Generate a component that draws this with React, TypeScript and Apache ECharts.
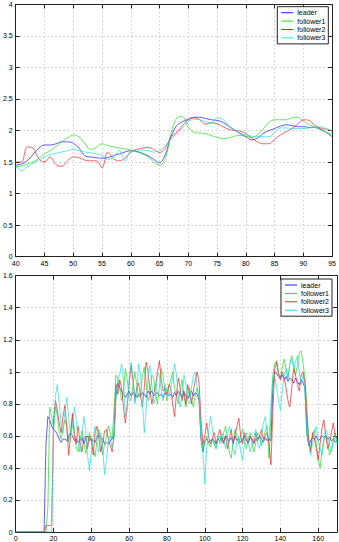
import React, { useEffect, useRef } from "react";
import * as echarts from "echarts";

// ---------- data ----------
const seriesNames = ["leader", "follower1", "follower2", "follower3"];
const seriesColors = ["#1a1aee", "#22dd22", "#ee2222", "#22dddd"];

// top plot: x from 40 to 95, step 1
const topX = [
  40, 41, 42, 43, 44, 45, 46, 47, 48, 49, 50, 51, 52, 53, 54, 55, 56, 57, 58, 59,
  60, 61, 62, 63, 64, 65, 66, 67, 68, 69, 70, 71, 72, 73, 74, 75, 76, 77, 78, 79,
  80, 81, 82, 83, 84, 85, 86, 87, 88, 89, 90, 91, 92, 93, 94, 95,
];
const topLeader = [
  1.45, 1.47, 1.52, 1.62, 1.72, 1.77, 1.77, 1.79, 1.82, 1.82, 1.80, 1.72, 1.60, 1.58, 1.57, 1.56, 1.57, 1.60, 1.63, 1.66,
  1.68, 1.67, 1.64, 1.60, 1.54, 1.49, 1.62, 1.90, 2.08, 2.14, 2.18, 2.21, 2.21, 2.19, 2.17, 2.16, 2.13, 2.07, 2.01, 1.95,
  1.90, 1.85, 1.88, 1.95, 2.00, 2.03, 2.07, 2.09, 2.08, 2.06, 2.06, 2.05, 2.05, 2.02, 1.97, 1.90,
];
const topFollower1 = [
  1.42, 1.44, 1.47, 1.50, 1.56, 1.63, 1.68, 1.75, 1.82, 1.88, 1.93, 1.90, 1.80, 1.70, 1.73, 1.79, 1.76, 1.74, 1.72, 1.71,
  1.69, 1.66, 1.63, 1.58, 1.50, 1.45, 1.55, 1.95, 2.20, 2.22, 2.05, 1.97, 1.96, 1.95, 1.92, 1.89, 1.87, 1.88, 1.91, 1.92,
  1.91, 1.89, 1.93, 2.02, 2.13, 2.17, 2.17, 2.17, 2.20, 2.21, 2.15, 2.09, 2.05, 2.01, 1.97, 1.94,
];
const topFollower2 = [
  1.50, 1.50, 1.74, 1.72, 1.55, 1.50, 1.58, 1.46, 1.43, 1.52, 1.58, 1.57, 1.53, 1.52, 1.52, 1.41, 1.66, 1.55, 1.52, 1.56,
  1.66, 1.70, 1.72, 1.73, 1.70, 1.65, 1.72, 1.90, 1.97, 2.08, 2.17, 2.20, 2.17, 2.10, 2.12, 2.11, 2.06, 2.02, 2.00, 1.99,
  1.95, 1.88, 1.82, 1.79, 1.79, 1.86, 1.93, 1.98, 2.03, 2.10, 2.17, 2.16, 2.08, 2.04, 2.02, 1.99,
];
const topFollower3 = [
  1.45, 1.36, 1.42, 1.48, 1.53, 1.58, 1.62, 1.64, 1.66, 1.68, 1.70, 1.68, 1.66, 1.65, 1.63, 1.61, 1.54, 1.58, 1.68, 1.52,
  1.68, 1.69, 1.69, 1.68, 1.66, 1.68, 1.76, 1.87, 1.95, 2.05, 2.14, 2.18, 2.17, 2.14, 2.12, 2.20, 2.18, 2.07, 2.01, 1.96,
  1.93, 1.91, 1.90, 1.90, 1.90, 1.97, 2.04, 2.04, 2.03, 2.03, 2.03, 2.04, 2.05, 2.06, 2.03, 1.99,
];

// bottom plot: samples at x = 0, 1, 2, ... 170
const bottomLeader = [
  0, 0, 0, 0, 0, 0, 0, 0, 0, 0,
  0, 0, 0, 0, 0, 0, 0.55, 0.72, 0.70, 0.66,
  0.64, 0.63, 0.61, 0.58, 0.56, 0.58, 0.58, 0.57, 0.60, 0.62,
  0.60, 0.57, 0.58, 0.56, 0.57, 0.59, 0.55, 0.58, 0.60, 0.57,
  0.58, 0.57, 0.56, 0.59, 0.60, 0.59, 0.58, 0.55, 0.56, 0.55,
  0.57, 0.58, 0.60, 0.85, 0.93, 0.90, 0.88, 0.86, 0.84, 0.86,
  0.88, 0.85, 0.87, 0.86, 0.84, 0.86, 0.85, 0.87, 0.86, 0.84,
  0.88, 0.86, 0.88, 0.85, 0.86, 0.87, 0.85, 0.86, 0.84, 0.87,
  0.86, 0.85, 0.86, 0.84, 0.87, 0.85, 0.88, 0.86, 0.84, 0.87,
  0.85, 0.83, 0.86, 0.88, 0.85, 0.87, 0.86, 0.82, 0.58, 0.50,
  0.57, 0.58, 0.56, 0.57, 0.58, 0.57, 0.55, 0.58, 0.57, 0.59,
  0.56, 0.60, 0.58, 0.57, 0.59, 0.56, 0.60, 0.57, 0.58, 0.56,
  0.58, 0.60, 0.57, 0.56, 0.59, 0.58, 0.56, 0.58, 0.57, 0.60,
  0.58, 0.56, 0.59, 0.57, 0.58, 0.57, 0.90, 1.00, 0.99, 0.97,
  0.96, 0.98, 0.95, 0.97, 0.94, 0.96, 0.95, 0.93, 0.96, 0.94,
  0.92, 0.95, 0.93, 0.90, 0.62, 0.54, 0.57, 0.59, 0.58, 0.60,
  0.57, 0.58, 0.60, 0.59, 0.60, 0.58, 0.59, 0.57, 0.58, 0.56,
  0.57,
];
const bottomFollower1 = [
  0, 0, 0, 0, 0, 0, 0, 0, 0, 0,
  0, 0, 0, 0, 0, 0, 0, 0.15, 0.78, 0.72,
  0.66, 0.78, 0.73, 0.62, 0.58, 0.64, 0.70, 0.66, 0.56, 0.62,
  0.72, 0.64, 0.52, 0.50, 0.58, 0.63, 0.56, 0.49, 0.55, 0.62,
  0.57, 0.52, 0.47, 0.58, 0.64, 0.56, 0.48, 0.55, 0.60, 0.66,
  0.62, 0.58, 0.76, 0.98, 0.96, 0.90, 0.82, 0.88, 1.02, 0.95,
  0.84, 0.82, 0.92, 1.00, 0.92, 0.84, 0.86, 0.97, 1.03, 0.93,
  0.82, 0.85, 0.98, 0.96, 0.86, 0.80, 0.90, 1.02, 0.97, 0.88,
  0.82, 0.90, 0.95, 1.00, 0.90, 0.85, 0.80, 0.88, 0.95, 0.85,
  0.78, 0.85, 0.90, 0.82, 0.78, 0.86, 0.90, 0.84, 0.60, 0.52,
  0.56, 0.60, 0.55, 0.53, 0.58, 0.55, 0.52, 0.58, 0.60, 0.56,
  0.62, 0.66, 0.58, 0.50, 0.46, 0.56, 0.64, 0.60, 0.55, 0.60,
  0.64, 0.57, 0.52, 0.58, 0.62, 0.55, 0.50, 0.56, 0.62, 0.60,
  0.54, 0.58, 0.63, 0.66, 0.46, 0.72, 0.98, 1.05, 1.07, 1.00,
  0.96, 1.03, 1.08, 1.02, 0.96, 1.05, 1.10, 1.05, 0.98, 1.04,
  1.12, 1.13, 1.05, 0.96, 0.78, 0.58, 0.52, 0.60, 0.64, 0.55,
  0.46, 0.40, 0.50, 0.58, 0.60, 0.56, 0.48, 0.52, 0.58, 0.62,
  0.55,
];
const bottomFollower2 = [
  0, 0, 0, 0, 0, 0, 0, 0, 0, 0,
  0, 0, 0, 0, 0, 0, 0.04, 0.04, 0.04, 0.04,
  0.70, 0.82, 0.76, 0.68, 0.62, 0.72, 0.79, 0.66, 0.48, 0.60,
  0.74, 0.60, 0.55, 0.66, 0.56, 0.50, 0.58, 0.60, 0.52, 0.60,
  0.58, 0.48, 0.62, 0.66, 0.58, 0.50, 0.56, 0.63, 0.64, 0.58,
  0.54, 0.50, 0.62, 0.92, 0.86, 0.95, 0.90, 0.78, 0.68, 0.80,
  0.92, 1.04, 0.95, 0.82, 0.90, 0.93, 0.85, 0.78, 0.90, 1.06,
  1.00, 0.88, 0.80, 0.86, 0.92, 1.00, 1.07, 0.95, 0.88, 0.90,
  0.86, 0.92, 0.90, 0.80, 0.72, 0.86, 0.96, 0.90, 0.82, 0.88,
  0.80, 0.92, 0.86, 0.80, 0.88, 0.95, 1.00, 0.93, 0.70, 0.55,
  0.60, 0.68, 0.60, 0.55, 0.58, 0.62, 0.55, 0.60, 0.64, 0.58,
  0.55, 0.60, 0.52, 0.58, 0.64, 0.55, 0.60, 0.66, 0.71, 0.60,
  0.55, 0.62, 0.58, 0.55, 0.60, 0.58, 0.55, 0.62, 0.58, 0.60,
  0.64, 0.58, 0.60, 0.62, 0.55, 0.42, 0.75, 1.02, 1.06, 0.98,
  0.95, 1.00, 0.96, 0.90, 0.82, 0.78, 0.90, 1.02, 0.98, 0.92,
  0.88, 0.98, 1.00, 0.93, 0.72, 0.56, 0.50, 0.62, 0.58, 0.52,
  0.45, 0.55, 0.65, 0.70, 0.60, 0.52, 0.56, 0.62, 0.68, 0.60,
  0.58,
];
const bottomFollower3 = [
  0, 0, 0, 0, 0, 0, 0, 0, 0, 0,
  0, 0, 0, 0, 0, 0, 0, 0, 0, 0,
  0.60, 0.85, 0.92, 0.80, 0.68, 0.62, 0.75, 0.84, 0.72, 0.60,
  0.65, 0.78, 0.70, 0.56, 0.50, 0.60, 0.72, 0.64, 0.48, 0.38,
  0.50, 0.60, 0.66, 0.56, 0.50, 0.62, 0.52, 0.36, 0.46, 0.56,
  0.60, 0.52, 0.58, 0.86, 0.96, 0.98, 1.05, 0.95, 0.72, 0.76,
  0.96, 1.06, 0.98, 0.80, 0.86, 1.05, 0.98, 0.82, 0.62, 0.76,
  0.98, 1.04, 0.92, 0.80, 0.84, 1.00, 0.98, 0.88, 0.82, 0.92,
  0.88, 0.85, 0.90, 0.95, 1.05, 0.98, 0.85, 0.78, 0.85, 0.98,
  0.92, 0.82, 0.80, 0.90, 0.98, 1.00, 0.90, 0.85, 0.60, 0.50,
  0.30, 0.52, 0.62, 0.72, 0.65, 0.55, 0.52, 0.60, 0.55, 0.62,
  0.58, 0.52, 0.60, 0.66, 0.62, 0.52, 0.48, 0.56, 0.60, 0.50,
  0.45, 0.55, 0.62, 0.56, 0.50, 0.54, 0.60, 0.64, 0.55, 0.52,
  0.60, 0.68, 0.72, 0.62, 0.58, 0.80, 0.96, 0.98, 0.90, 0.82,
  0.76, 0.88, 0.98, 1.02, 0.95, 1.05, 1.08, 1.02, 1.06, 1.10,
  1.00, 0.92, 0.98, 0.88, 0.60, 0.55, 0.48, 0.55, 0.62, 0.66,
  0.58, 0.52, 0.48, 0.56, 0.64, 0.60, 0.55, 0.50, 0.56, 0.60,
  0.55,
];

const topSeries = [topLeader, topFollower1, topFollower2, topFollower3];
const bottomSeries = [bottomLeader, bottomFollower1, bottomFollower2, bottomFollower3];

// ---------- styles ----------
const FONT = "Liberation Sans";
const frameColor = "#222";
const gridLine = { color: "#b4b4b4", width: 1, type: [1, 3] as number[] };

function mainAxis(pos: string, gridIndex: number, min: number, max: number, interval: number, hideMax = false) {
  return {
    type: "value",
    gridIndex,
    position: pos,
    min,
    max,
    interval,
    axisLine: { show: true, onZero: false, lineStyle: { color: frameColor, width: 1 } },
    axisTick: { show: true, inside: true, length: 4, lineStyle: { color: frameColor, width: 1 } },
    axisLabel: {
      show: true,
      fontSize: 7,
      fontFamily: FONT,
      color: "#000",
      margin: 3,
      showMaxLabel: !hideMax,
    },
    splitLine: { show: true, lineStyle: gridLine },
  };
}
function sideAxis(pos: string, gridIndex: number, min: number, max: number, interval: number) {
  return {
    type: "value",
    gridIndex,
    position: pos,
    min,
    max,
    interval,
    axisLine: { show: true, onZero: false, lineStyle: { color: frameColor, width: 1 } },
    axisTick: { show: true, inside: true, length: 4, lineStyle: { color: frameColor, width: 1 } },
    axisLabel: { show: false },
    splitLine: { show: false },
  };
}

function legendAt(left: number, top: number) {
  return {
    orient: "vertical",
    left,
    top,
    data: seriesNames,
    icon: "rect",
    itemWidth: 12,
    itemHeight: 1,
    itemGap: 0.4,
    padding: [2, 3, 2, 4],
    backgroundColor: "#fff",
    borderColor: frameColor,
    borderWidth: 1,
    borderRadius: 0,
    selectedMode: false,
    textStyle: { fontSize: 7, fontFamily: FONT, color: "#000", lineHeight: 8, padding: [0, 0, 0, -1] },
  };
}

export default function App() {
  const ref = useRef<HTMLDivElement>(null);
  useEffect(() => {
    if (!ref.current) return;
    const chart = echarts.init(ref.current, undefined, { renderer: "svg" });

    const series: any[] = [];
    seriesNames.forEach((name, i) => {
      series.push({
        name,
        type: "line",
        xAxisIndex: 0,
        yAxisIndex: 0,
        data: topX.map((x, k) => [x, topSeries[i][k]]),
        smooth: 0.35,
        symbol: "none",
        lineStyle: { color: seriesColors[i], width: 0.7 },
        itemStyle: { color: seriesColors[i] },
        z: 2 + i,
      });
    });
    seriesNames.forEach((name, i) => {
      series.push({
        name,
        type: "line",
        xAxisIndex: 2,
        yAxisIndex: 2,
        data: bottomSeries[i].map((v, k) => [k, v]),
        symbol: "none",
        lineStyle: { color: seriesColors[i], width: 0.7 },
        itemStyle: { color: seriesColors[i] },
        z: 2 + i,
      });
    });

    chart.setOption({
      animation: false,
      backgroundColor: "#fff",
      grid: [
        { left: 12.3, top: 4.3, width: 321, height: 252.4, containLabel: false },
        { left: 12.3, top: 275.7, width: 324.8, height: 256.6, containLabel: false },
      ],
      xAxis: [
        mainAxis("bottom", 0, 40, 95, 5),
        sideAxis("top", 0, 40, 95, 5),
        mainAxis("bottom", 1, 0, 170, 20, true),
        sideAxis("top", 1, 0, 170, 20),
      ],
      yAxis: [
        mainAxis("left", 0, 0, 4, 0.5),
        sideAxis("right", 0, 0, 4, 0.5),
        mainAxis("left", 1, 0, 1.6, 0.2),
        sideAxis("right", 1, 0, 1.6, 0.2),
      ],
      legend: [legendAt(277.3, 6.7), legendAt(281, 279)],
      series,
    });
    return () => chart.dispose();
  }, []);
  return (
    <div
      ref={ref}
      style={{ position: "absolute", left: 0, top: 0, width: 339, height: 542, background: "#fff" }}
    />
  );
}
